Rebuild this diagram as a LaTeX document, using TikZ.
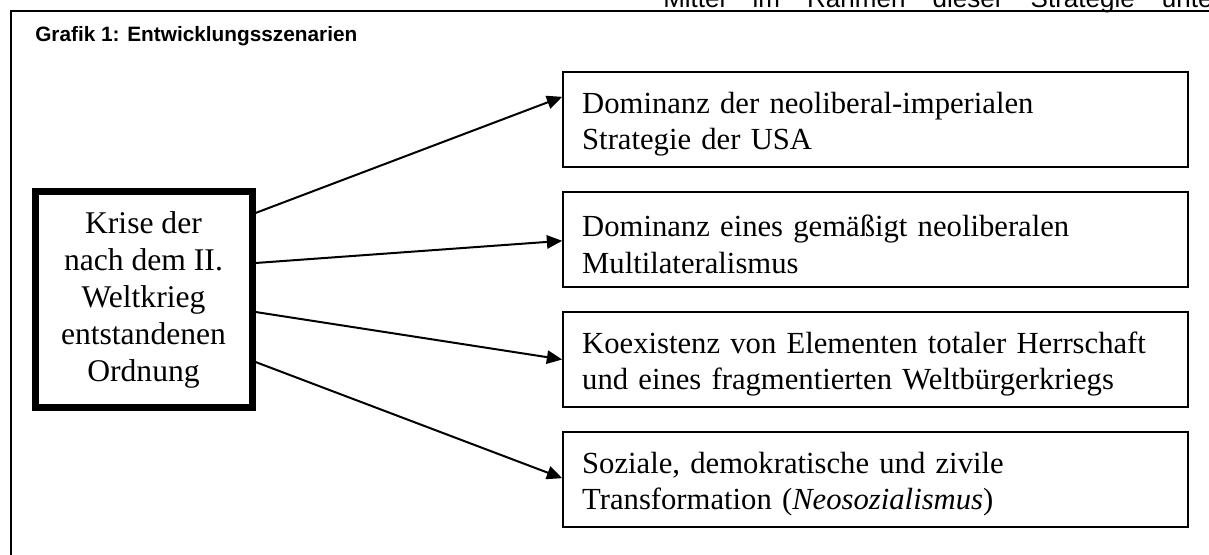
\documentclass[tikz,border=0pt]{standalone}
\usepackage{fontspec}
\setmainfont{Liberation Serif}
\newfontfamily\headfont{Liberation Sans}
\usepackage{tikz}
\usetikzlibrary{arrows.meta}
\usetikzlibrary{positioning}
\tikzset{
	crisisnode/.style={rectangle, draw=black, line width=5.25pt, minimum width=162.75pt, minimum height=162pt, inner sep=0pt, align=center, font=\fontsize{23.7}{27.75}\selectfont}
}
\tikzset{
	scennode/.style={rectangle, draw=black, line width=1.2pt, minimum width=468.75pt, minimum height=71.25pt, inner sep=0pt, text width=440pt, align=left, font=\fontsize{23}{27.5}\selectfont},
	scenarrow/.style = {-{Triangle[length=11.5pt,width=10pt]}, line width=1.5pt}
}

\begin{document}
\begin{tikzpicture}[x=0.75pt,y=-0.75pt]
		\useasboundingbox (0,0) rectangle (1209,555);
		\clip (0,0) rectangle (1209,555);
		
		%Frame
		\draw[line width=1.4pt] (1215,11) -- (11,11) -- (11,560);
		\node[anchor=base west, inner sep=0pt, font=\headfont\fontsize{19.5}{22}\selectfont] at (663,7.5) (page) {\makebox[412pt][s]{Mittel im Rahmen dieser Strategie unte}};
		\node[anchor=base west, inner sep=0pt, font=\headfont\bfseries\fontsize{15.6}{18}\selectfont] at (35,42) (title) {Grafik 1: Entwicklungsszenarien};
		
		%Nodes
		\node[crisisnode] at (143.5,300) (crisis) {Krise der\\nach dem II.\\Weltkrieg\\entstandenen\\Ordnung};
		\node[scennode] at (875.5,119.5) (usa) {\rule{0pt}{23pt}Dominanz der neoliberal-imperialen\\Strategie der USA};
		\node[scennode] at (875.5,239.5) (multi) {\rule{0pt}{23pt}Dominanz eines gemäßigt neoliberalen\\Multilateralismus};
		\node[scennode] at (875.5,359.5) (koex) {\rule{0pt}{23pt}Koexistenz von Elementen totaler Herrschaft\\und eines fragmentierten Weltbürgerkriegs};
		\node[scennode] at (875.5,479.5) (neo) {\rule{0pt}{23pt}Soziale, demokratische und zivile\\Transformation (\textit{Neosozialismus})};
		
		%Lines
		\draw[scenarrow] ([yshift=65.25pt]crisis.east) -- ([yshift=17pt]usa.west);
		\draw[scenarrow] ([yshift=27.75pt]crisis.east) -- ([yshift=-1pt]multi.west);
		\draw[scenarrow] ([yshift=-9pt]crisis.east) -- (koex.west);
		\draw[scenarrow] ([yshift=-46.5pt]crisis.east) -- ([yshift=1pt]neo.west);
		
	\end{tikzpicture}
\end{document}
